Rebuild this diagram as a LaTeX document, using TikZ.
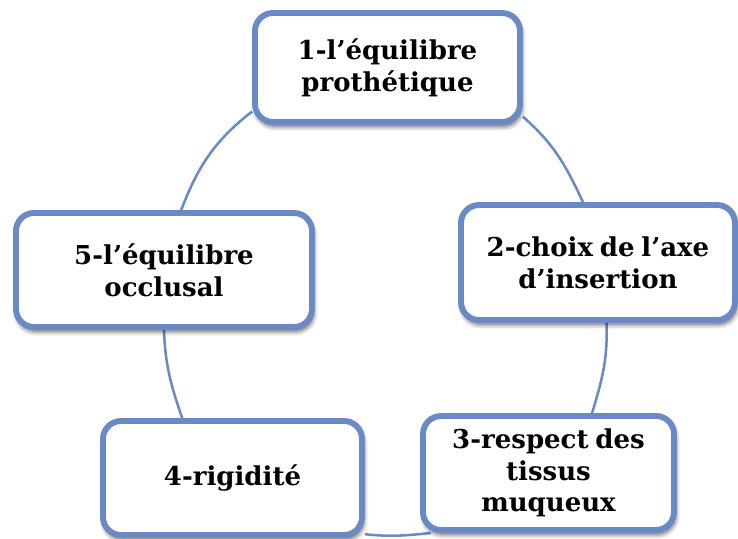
\documentclass[tikz,border=0pt]{standalone}
\usepackage{fontspec}
\setmainfont{DejaVu Serif}[WordSpace=0.75]
\usetikzlibrary{shadows.blur,backgrounds}
\definecolor{cycleblue}{RGB}{106,138,198}

\begin{document}
\begin{tikzpicture}[
stage/.style={
rectangle,
rounded corners=0.45cm,
draw=cycleblue,
line width=4.2pt,
fill=white,
align=center,
font=\fontsize{18.5}{22.5}\selectfont\bfseries,
minimum height=2.85cm,
blur shadow={shadow xshift=1pt,shadow yshift=-3pt,shadow blur steps=8,shadow blur radius=3.5pt,shadow opacity=65}
},
link/.style={
draw=cycleblue,
line width=1.8pt
}
]

\useasboundingbox (0,0) rectangle (18.45,-13.45);

\node[stage, minimum width=6.625cm, minimum height=2.725cm] (prot) at (9.6875,-1.6875)
{1-l’équilibre\\prothétique};

\node[stage, minimum width=6.85cm, minimum height=2.875cm] (axe) at (14.95,-6.5625)
{2-choix de l’axe\\d’insertion};

\node[stage, minimum width=6.275cm] (tissus) at (13.7125,-11.825)
{3-respect des\\tissus\\muqueux};

\node[stage, minimum width=6.475cm] (rig) at (5.8125,-11.95)
{4-rigidité};

\node[stage, minimum width=7.4cm] (occl) at (4.1,-6.75)
{5-l’équilibre\\occlusal};

\begin{scope}[on background layer]
\draw[link] (prot.-20) to[out=-41,in=115] (axe.104);
\draw[link] (axe.-82) to[out=-88,in=73] (tissus.54);
\draw[link] (tissus.207) to[out=186,in=-6] (rig.-23);
\draw[link] (rig.130) to[out=109,in=-88] (occl.south);
\draw[link] (occl.74) to[out=69,in=218] (prot.198);
\end{scope}

\end{tikzpicture}
\end{document}
